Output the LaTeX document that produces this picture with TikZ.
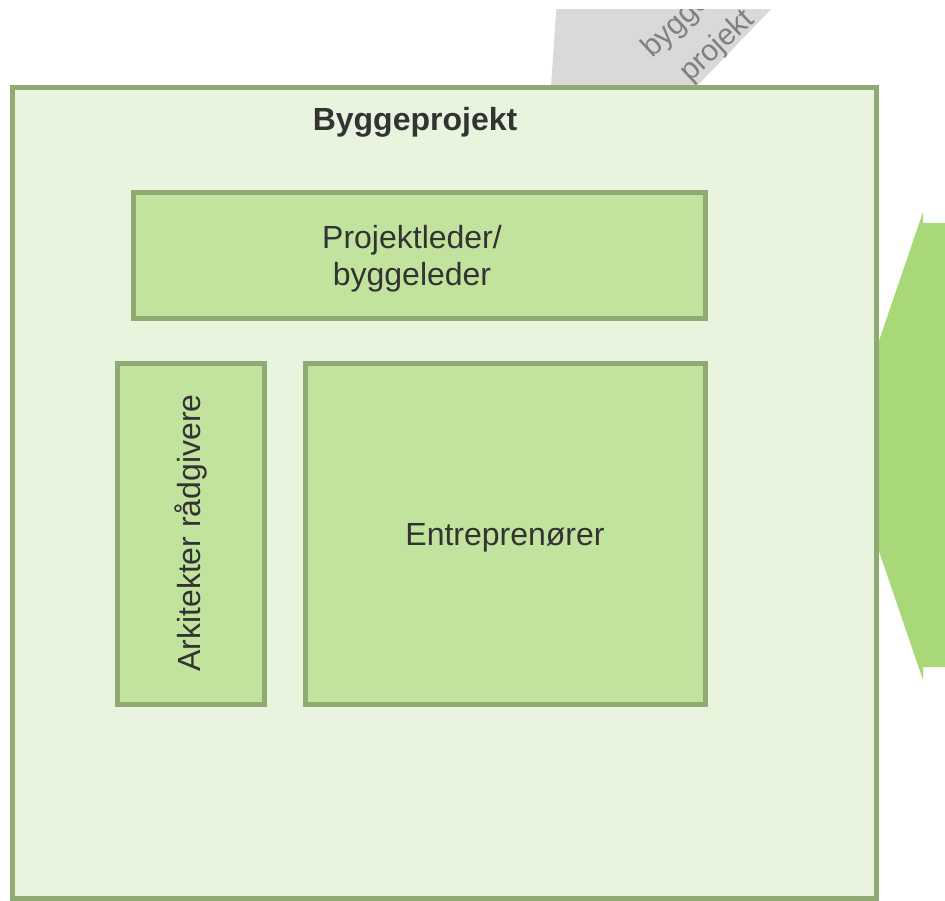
\documentclass[tikz,border=0pt]{standalone}
\usepackage{fontspec}
\setmainfont{Liberation Sans}
\definecolor{bordergreen}{HTML}{8FAA72}
\definecolor{outerfill}{HTML}{E9F4DE}
\definecolor{innerfill}{HTML}{C2E39D}
\definecolor{arrowgreen}{HTML}{A8D878}
\definecolor{grayshape}{HTML}{D9D9D9}
\definecolor{graytext}{HTML}{808080}
\definecolor{darktext}{HTML}{333333}
\tikzset{
  outerbox/.style={draw=bordergreen, fill=outerfill, line width=5pt},
  innerbox/.style={draw=bordergreen, fill=innerfill, line width=5pt},
  boxtext/.style={text=darktext, font=\fontsize{32}{37}\selectfont, align=center},
  graylabel/.style={text=graytext, font=\fontsize{30}{34}\selectfont, rotate=43, anchor=base west, inner sep=0pt},
}
\begin{document}
\begin{tikzpicture}[x=1pt,y=-1pt]
\useasboundingbox (0,0) rectangle (945,901);
\begin{scope}
\clip (0,10) rectangle (945,901);
\fill[grayshape] (557,0) -- (780,0) -- (697,86) -- (551,86) -- cycle;
\node[graylabel] (lbyg) at (652,59) {bygge};
\node[graylabel] (lproj) at (690,83) {projekt};
\end{scope}
\begin{scope}
\clip (0,0) rectangle (945,901);
\fill[arrowgreen] (843,446) -- (923,212) -- (923,223) -- (960,223) -- (960,667) -- (923,667) -- (923,680) -- cycle;
\end{scope}
\draw[outerbox] (12,88) rectangle (876,898);
\node[text=darktext, font=\fontsize{32}{37}\selectfont\bfseries] (title) at (415,122) {Byggeprojekt};
\draw[innerbox] (133,193) rectangle (705,319);
\node[boxtext] (pl) at (412,259) {Projektleder/\\byggeleder};
\draw[innerbox] (117,363) rectangle (264,704);
\node[boxtext, rotate=90] (ark) at (191,533) {Arkitekter rådgivere};
\draw[innerbox] (305,363) rectangle (705,704);
\node[boxtext] (ent) at (505,538) {Entreprenører};
\end{tikzpicture}
\end{document}
